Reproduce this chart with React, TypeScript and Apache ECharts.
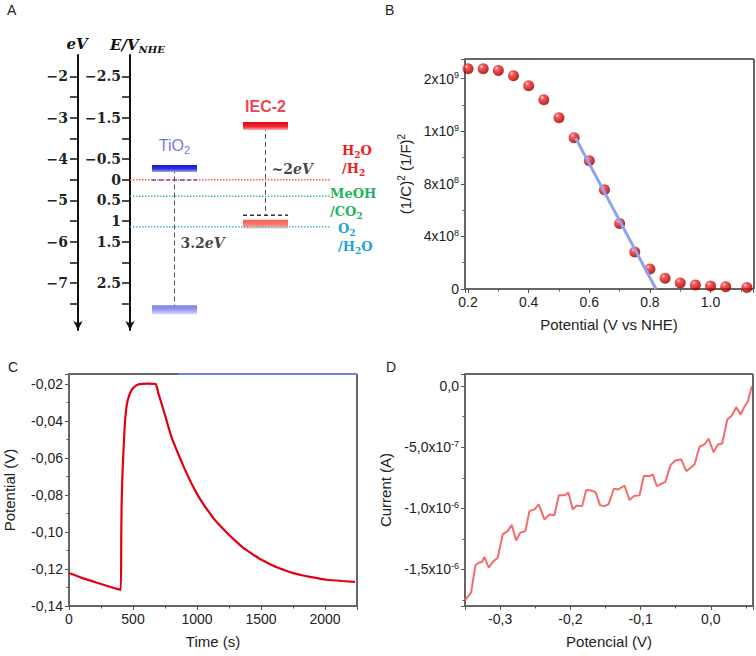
import React, { useEffect, useRef } from 'react';
import * as echarts from 'echarts';

const SANS = "'Liberation Sans', Arial, sans-serif";
const SERIF = "'DejaVu Serif', serif";

// ---------- Panel A: band diagram (eV vs vacuum, E vs NHE) ----------
const bandMaterials = ['TiO2', 'IEC-2'];
const conductionBandEV = [-4.23, -3.2];
const valenceBandEV = [-7.65, -5.58];
const dashedLevelEV = [-4.51, -5.36];
const bandGapTexts = ['3.2', '~2'];
const redoxTop = ['H2O', 'MeOH', 'O2'];
const redoxBottom = ['/H2', '/CO2', '/H2O'];
const redoxPotentialNHE = [0, 0.4, 1.14];
const eVTickValues = [-2, -2.5, -3, -3.5, -4, -4.5, -5, -5.5, -6, -6.5, -7, -7.5];
const eVLabelValues = [-2, -3, -4, -5, -6, -7];
const nheTickValues = [-2.5, -2, -1.5, -1, -0.5, 0, 0.5, 1, 1.5, 2, 2.5, 3];
const nheLabelValues = [-2.5, -1.5, -0.5, 0, 0.5, 1, 1.5, 2.5];
const VAC_TO_NHE = 4.5; // E(NHE) = -E(eV) - 4.5

// ---------- Panel B: Mott-Schottky ----------
const mottPotential = [0.2, 0.25, 0.3, 0.35, 0.4, 0.45, 0.5, 0.55, 0.6, 0.65, 0.7, 0.75, 0.8, 0.85, 0.9, 0.95, 1.0, 1.05, 1.12];
const mottInvC2 = [1.675e9, 1.675e9, 1.662e9, 1.622e9, 1.546e9, 1.44e9, 1.303e9, 1.151e9, 0.976e9, 0.755e9, 0.499e9, 0.281e9, 0.152e9, 0.081e9, 0.046e9, 0.03e9, 0.023e9, 0.017e9, 0.012e9];
const fitPotential = [0.555, 0.82];
const fitInvC2 = [1.148e9, 0];

// ---------- Panel C: open-circuit potential vs time ----------
const ocpTime = [0, 100, 200, 300, 404, 408, 411, 418, 425, 432, 438, 450, 464, 490, 529, 568, 620, 677, 700, 724, 760, 802, 850, 906, 960, 1010, 1060, 1102, 1141, 1232, 1300, 1362, 1430, 1492, 1560, 1623, 1690, 1752, 1820, 1883, 1950, 2013, 2134, 2234];
const ocpPotential = [-0.1222, -0.1248, -0.127, -0.1292, -0.1313, -0.105, -0.085, -0.068, -0.057, -0.047, -0.04, -0.032, -0.0275, -0.0232, -0.0206, -0.0199, -0.0198, -0.02, -0.0255, -0.0308, -0.0392, -0.049, -0.0572, -0.0663, -0.0742, -0.0806, -0.086, -0.09, -0.0937, -0.1003, -0.1048, -0.1086, -0.1118, -0.1146, -0.117, -0.1191, -0.1208, -0.1222, -0.1234, -0.1243, -0.1251, -0.1258, -0.1265, -0.127];

// ---------- Panel D: chopped LSV ----------
const lsvPotential = [-0.35, -0.3413, -0.3352, -0.3305, -0.3257, -0.3224, -0.3162, -0.3105, -0.3034, -0.2963, -0.2892, -0.2835, -0.2772, -0.2715, -0.264, -0.2583, -0.2511, -0.245, -0.2369, -0.2298, -0.2227, -0.2165, -0.2084, -0.2027, -0.1966, -0.1909, -0.1832, -0.1775, -0.1704, -0.1642, -0.1575, -0.1514, -0.1455, -0.1382, -0.1315, -0.1229, -0.1158, -0.1097, -0.1016, -0.0954, -0.0873, -0.0826, -0.0769, -0.0707, -0.065, -0.0574, -0.0507, -0.0422, -0.035, -0.0289, -0.0232, -0.0161, -0.009, -0.0033, 0.0038, 0.01, 0.0162, 0.0234, 0.0299, 0.0362, 0.0423, 0.047, 0.0527, 0.0584];
const lsvCurrent = [-1.751e-6, -1.69e-6, -1.467e-6, -1.445e-6, -1.44e-6, -1.399e-6, -1.486e-6, -1.44e-6, -1.404e-6, -1.214e-6, -1.187e-6, -1.134e-6, -1.263e-6, -1.2e-6, -1.187e-6, -1.023e-6, -1.009e-6, -0.968e-6, -1.091e-6, -1.05e-6, -1.056e-6, -0.894e-6, -0.894e-6, -0.872e-6, -1.009e-6, -0.976e-6, -0.982e-6, -0.851e-6, -0.854e-6, -0.867e-6, -0.976e-6, -0.982e-6, -0.965e-6, -0.84e-6, -0.845e-6, -0.813e-6, -0.933e-6, -0.9e-6, -0.894e-6, -0.736e-6, -0.736e-6, -0.723e-6, -0.818e-6, -0.799e-6, -0.786e-6, -0.646e-6, -0.608e-6, -0.6e-6, -0.696e-6, -0.668e-6, -0.641e-6, -0.496e-6, -0.477e-6, -0.43e-6, -0.54e-6, -0.477e-6, -0.469e-6, -0.273e-6, -0.24e-6, -0.172e-6, -0.232e-6, -0.177e-6, -0.123e-6, 0];

// ---------- layout / style constants ----------
const GRID_A = { left: 130, top: 55, width: 200, height: 275 };
const GRID_B = { left: 465, top: 59, width: 289, height: 230 };
const GRID_C = { left: 69, top: 374, width: 288, height: 232 };
const GRID_D = { left: 465, top: 374, width: 288, height: 232 };
const bandSlots = [[22, 67], [113, 158]];
const gapLabelEV = [-6.04, -4.25];
const materialLabelDistance = [13, 9];
const bandStyles = [
  [
    { h: 7, stops: [[0, '#1a1ac4'], [0.55, '#3030e0'], [1, '#a8a8f6']] },
    { h: 9, stops: [[0, '#7f7fea'], [0.5, '#9a9af0'], [1, '#dcdcfa']] },
  ],
  [
    { h: 8, stops: [[0, '#e6000c'], [0.6, '#f02a30'], [1, '#fbb0b0']] },
    { h: 9, stops: [[0, '#ff5f55'], [0.55, '#ff7a70'], [1, '#ffdcd8']] },
  ],
];
const dashedLevelColors = ['#3b3bd6', '#333333'];
const redoxLineColors = ['#ff5c5c', '#3ccf7a', '#3cbfd0'];
const redoxTextColors = ['#ee1c24', '#22b35c', '#22a4d6'];
const redoxLabelOffsets = [[8, -20], [-4, 6], [4, 11]];
const FRAME = '#666666';
const FRAME_W = 2;

const isMultiple = (v: number, step: number) => Math.abs(v / step - Math.round(v / step)) < 1e-6;
const minus = (v: number) => String(v).replace('-', '\u2212');
const subRich = (s: string, base: string, sub: string) =>
  s.split(/(\d+)/).filter((p) => p.length).map((p) => (/^\d+$/.test(p) ? `{${sub}|${p}}` : `{${base}|${p}}`)).join('');

const frameAxis = (extra: any, label: any) => ({
  type: 'value',
  axisLine: { show: true, onZero: false, lineStyle: { color: FRAME, width: FRAME_W } },
  axisTick: { show: true, length: 4, lineStyle: { color: '#555' } },
  minorTick: { show: true, splitNumber: 2, length: 2.5, lineStyle: { color: '#555' } },
  splitLine: { show: false },
  minorSplitLine: { show: false },
  nameLocation: 'middle',
  nameTextStyle: { fontFamily: SANS, fontSize: 15, color: '#222' },
  axisLabel: { fontFamily: SANS, fontSize: 14, color: '#222', margin: 6, ...label },
  ...extra,
});

// top and right edges closing each framed panel
const frameLines = (g: any) => [
  { type: 'line', z: 90, shape: { x1: g.left, y1: g.top, x2: g.left + g.width, y2: g.top }, style: { stroke: FRAME, lineWidth: FRAME_W } },
  { type: 'line', z: 90, shape: { x1: g.left + g.width, y1: g.top, x2: g.left + g.width, y2: g.top + g.height }, style: { stroke: FRAME, lineWidth: FRAME_W } },
];

const sciRich = {
  n: { fontFamily: SANS, fontSize: 14, color: '#222', lineHeight: 16 },
  s: { fontFamily: SANS, fontSize: 9, color: '#222', lineHeight: 8, verticalAlign: 'top' },
};

function buildOption() {
  const eVMin = -8.137;
  const eVMax = -1.485;
  const bandCenters = bandSlots.map((s) => (s[0] + s[1]) / 2);

  const bandData: number[][] = [];
  bandMaterials.forEach((_, i) => {
    bandData.push([bandSlots[i][0], bandSlots[i][1], conductionBandEV[i], i, 0]);
    bandData.push([bandSlots[i][0], bandSlots[i][1], valenceBandEV[i], i, 1]);
  });
  const verticalEnds = [valenceBandEV[0], dashedLevelEV[1]];

  const series: any[] = [];
  bandMaterials.forEach((_, i) => {
    series.push({
      type: 'line', xAxisIndex: 0, yAxisIndex: 0, symbol: 'none', z: 1,
      data: [[bandCenters[i], conductionBandEV[i]], [bandCenters[i], verticalEnds[i]]],
      lineStyle: { color: '#555', width: 1, type: [5, 3] },
    });
  });
  bandMaterials.forEach((_, i) => {
    series.push({
      type: 'line', xAxisIndex: 0, yAxisIndex: 0, symbol: 'none', z: 2,
      data: [[bandSlots[i][0], dashedLevelEV[i]], [bandSlots[i][1], dashedLevelEV[i]]],
      lineStyle: { color: dashedLevelColors[i], width: 1.5, type: [4, 3] },
    });
  });
  series.push({
    type: 'custom', xAxisIndex: 0, yAxisIndex: 0, z: 3,
    data: bandData,
    encode: { x: [0, 1], y: 2 },
    renderItem: (_p: any, api: any) => {
      const x0 = api.value(0), x1 = api.value(1), ev = api.value(2);
      const mi = api.value(3), kind = api.value(4);
      const st = bandStyles[mi][kind];
      const p0 = api.coord([x0, ev]);
      const p1 = api.coord([x1, ev]);
      return {
        type: 'rect',
        shape: { x: p0[0], y: p0[1] - st.h / 2, width: p1[0] - p0[0], height: st.h },
        style: {
          fill: new echarts.graphic.LinearGradient(0, 0, 0, 1, st.stops.map((s: any) => ({ offset: s[0], color: s[1] }))),
        },
      };
    },
  });
  series.push({
    type: 'scatter', xAxisIndex: 0, yAxisIndex: 0, symbolSize: 0, z: 4,
    data: bandMaterials.map((m, i) => ({
      value: [bandCenters[i], conductionBandEV[i]],
      label: { distance: materialLabelDistance[i] },
    })),
    label: {
      show: true, position: 'top',
      formatter: (p: any) => (p.dataIndex === 0 ? '{t|TiO}{ts|2}' : '{r|IEC-2}'),
      rich: {
        t: { fontFamily: SANS, fontSize: 16, color: '#4f4ff0', lineHeight: 20 },
        ts: { fontFamily: SANS, fontSize: 11, color: '#4f4ff0', lineHeight: 12, verticalAlign: 'bottom' },
        r: { fontFamily: SANS, fontSize: 16, fontWeight: 'bold', color: '#e81020', lineHeight: 20 },
      },
    },
  });
  series.push({
    type: 'scatter', xAxisIndex: 0, yAxisIndex: 0, symbolSize: 0, z: 4,
    data: bandMaterials.map((_, i) => [bandCenters[i], gapLabelEV[i]]),
    label: {
      show: true, position: 'right', distance: 6,
      formatter: (p: any) => `{n|${bandGapTexts[p.dataIndex]}}{i|eV}`,
      rich: {
        n: { fontFamily: SERIF, fontWeight: 'bold', fontSize: 14, color: '#111' },
        i: { fontFamily: SERIF, fontWeight: 'bold', fontStyle: 'italic', fontSize: 14, color: '#111' },
      },
    },
  });
  redoxPotentialNHE.forEach((e, i) => {
    series.push({
      type: 'line', xAxisIndex: 0, yAxisIndex: 1, symbol: 'none', z: 5,
      data: [[0, e], [200, e]],
      lineStyle: { color: redoxLineColors[i], width: 1.5, type: 'dotted' },
      endLabel: {
        show: true,
        offset: redoxLabelOffsets[i],
        distance: 4,
        formatter: () => `${subRich(redoxTop[i], 'a', 'b')}\n${subRich(redoxBottom[i], 'a', 'b')}`,
        rich: {
          a: { fontFamily: SERIF, fontWeight: 'bold', fontSize: 13, color: redoxTextColors[i], lineHeight: 18 },
          b: { fontFamily: SERIF, fontWeight: 'bold', fontSize: 9, color: redoxTextColors[i], lineHeight: 8, verticalAlign: 'bottom' },
        },
      },
    });
  });

  // Panel B
  series.push({
    type: 'scatter', xAxisIndex: 1, yAxisIndex: 2, symbolSize: 11, z: 3,
    data: mottPotential.map((x, i) => [x, mottInvC2[i]]),
    itemStyle: {
      color: new echarts.graphic.RadialGradient(0.35, 0.3, 0.75, [
        { offset: 0, color: '#ffd6d6' },
        { offset: 0.25, color: '#f23030' },
        { offset: 0.7, color: '#c80000' },
        { offset: 1, color: '#780000' },
      ]),
    },
  });
  series.push({
    type: 'line', xAxisIndex: 1, yAxisIndex: 2, symbol: 'none', z: 4,
    data: fitPotential.map((x, i) => [x, fitInvC2[i]]),
    lineStyle: { color: '#8fa2ee', width: 3 },
  });
  // Panel C
  series.push({
    type: 'line', xAxisIndex: 2, yAxisIndex: 3, symbol: 'none', smooth: 0.15,
    data: ocpTime.map((t, i) => [t, ocpPotential[i]]),
    lineStyle: { color: '#e2000e', width: 2.2 },
  });
  // Panel D
  series.push({
    type: 'line', xAxisIndex: 3, yAxisIndex: 4, symbol: 'none',
    data: lsvPotential.map((p, i) => [p, lsvCurrent[i]]),
    lineStyle: { color: '#f56b6b', width: 2 },
  });

  const panelTitle = (text: string, left: number, top: number) => ({
    text, left, top, padding: 0,
    textStyle: { fontFamily: SANS, fontSize: 14, fontWeight: 'normal', color: '#222' },
  });

  const aAxisCommon = (ticks: number[], labels: number[], margin: number) => ({
    type: 'value',
    gridIndex: 0,
    position: 'left',
    axisLine: { show: true, onZero: false, symbol: ['arrow', 'none'], symbolSize: [7, 9], lineStyle: { color: '#111', width: 2 } },
    axisTick: { show: true, length: 8, customValues: ticks, lineStyle: { color: '#111', width: 1.5 } },
    axisLabel: {
      customValues: labels,
      formatter: (v: number) => minus(v),
      fontFamily: SERIF, fontWeight: 'bold', fontSize: 14, color: '#222', margin,
    },
    splitLine: { show: false },
  });

  return {
    animation: false,
    backgroundColor: '#ffffff',
    title: [panelTitle('A', 7, 3), panelTitle('B', 385, 3), panelTitle('C', 8, 360), panelTitle('D', 386, 360)],
    grid: [GRID_A, GRID_B, GRID_C, GRID_D],
    xAxis: [
      { type: 'value', gridIndex: 0, min: 0, max: 200, show: false },
      frameAxis(
        { gridIndex: 1, min: 0.19, max: 1.14, name: 'Potential (V vs NHE)', nameGap: 28 },
        { formatter: (v: number) => (isMultiple(v, 0.2) ? v.toFixed(1) : '') }
      ),
      frameAxis(
        { gridIndex: 2, min: 0, max: 2250, interval: 500, name: 'Time (s)', nameGap: 28 },
        { formatter: (v: number) => (isMultiple(v, 500) ? String(Math.round(v)) : '') }
      ),
      frameAxis(
        { gridIndex: 3, min: -0.35, max: 0.06, name: 'Potencial (V)', nameGap: 28 },
        { formatter: (v: number) => (isMultiple(v, 0.1) ? (Math.abs(v) < 1e-9 ? 0 : v).toFixed(1).replace('.', ',') : '') }
      ),
    ],
    yAxis: [
      { ...aAxisCommon(eVTickValues, eVLabelValues, 10), min: eVMin, max: eVMax, offset: 52 },
      { ...aAxisCommon(nheTickValues, nheLabelValues, 9), min: -eVMax - VAC_TO_NHE, max: -eVMin - VAC_TO_NHE, inverse: true, offset: 0 },
      frameAxis(
        {
          gridIndex: 1, min: 0, max: 1.75e9, interval: 4e8,
          name: '{n|(1/C)}{s|2}{n| (1/F)}{s|2}', nameGap: 51, nameRotate: 90,
          nameTextStyle: {
            rich: {
              n: { fontFamily: SANS, fontSize: 15, color: '#222', lineHeight: 18 },
              s: { fontFamily: SANS, fontSize: 10, color: '#222', lineHeight: 10, verticalAlign: 'top' },
            },
          },
        },
        {
          rich: sciRich,
          formatter: (v: number) => {
            if (Math.abs(v) < 1) return '{n|0}';
            if (!isMultiple(v, 4e8)) return '';
            const e = Math.floor(Math.log10(Math.abs(v)) + 1e-9);
            const m = Math.round(v / Math.pow(10, e));
            return `{n|${m}x10}{s|${e}}`;
          },
        }
      ),
      frameAxis(
        { gridIndex: 2, min: -0.14, max: -0.0146, interval: 0.02, name: 'Potential (V)', nameGap: 52, nameRotate: 90 },
        { formatter: (v: number) => (isMultiple(v, 0.02) ? v.toFixed(2).replace('.', ',') : '') }
      ),
      frameAxis(
        { gridIndex: 3, min: -1.8e-6, max: 1e-7, splitNumber: 4, name: 'Current (A)', nameGap: 72, nameRotate: 90 },
        {
          rich: sciRich,
          formatter: (v: number) => {
            const r = Number(v.toPrecision(6));
            if (Math.abs(r) < 1e-12) return '{n|0,0}';
            if (!isMultiple(r, 5e-7)) return '';
            const e = Math.floor(Math.log10(Math.abs(r)) + 1e-9);
            const m = r / Math.pow(10, e);
            return `{n|${m.toFixed(1).replace('.', ',')}x10}{s|${e}}`;
          },
        }
      ),
    ],
    graphic: [
      ...frameLines(GRID_B),
      ...frameLines(GRID_C),
      ...frameLines(GRID_D),
      {
        type: 'text', x: 77, y: 44,
        style: { text: 'eV', fill: '#111', font: `italic bold 15px ${SERIF}`, align: 'center', verticalAlign: 'middle', textAlign: 'center', textVerticalAlign: 'middle' },
      },
      {
        type: 'text', x: 110, y: 45,
        style: {
          text: '{m|E/V}{s|NHE}',
          verticalAlign: 'middle', textVerticalAlign: 'middle',
          rich: {
            m: { fontFamily: SERIF, fontStyle: 'italic', fontWeight: 'bold', fontSize: 15, fill: '#111', lineHeight: 18 },
            s: { fontFamily: SERIF, fontStyle: 'italic', fontWeight: 'bold', fontSize: 10, fill: '#111', lineHeight: 10, verticalAlign: 'bottom' },
          },
        },
      },
      {
        type: 'line', shape: { x1: 178, y1: 374, x2: 357, y2: 374 },
        style: { stroke: '#6f7fe8', lineWidth: 2 }, z: 100,
      },
    ],
    series,
  };
}

export default function App() {
  const ref = useRef<HTMLDivElement>(null);
  useEffect(() => {
    const chart = echarts.init(ref.current!, null, { renderer: 'svg' });
    chart.setOption(buildOption() as any);
    return () => chart.dispose();
  }, []);
  return (
    <div
      ref={ref}
      style={{ position: 'fixed', left: 0, top: 0, width: 756, height: 656, background: '#ffffff' }}
    />
  );
}
